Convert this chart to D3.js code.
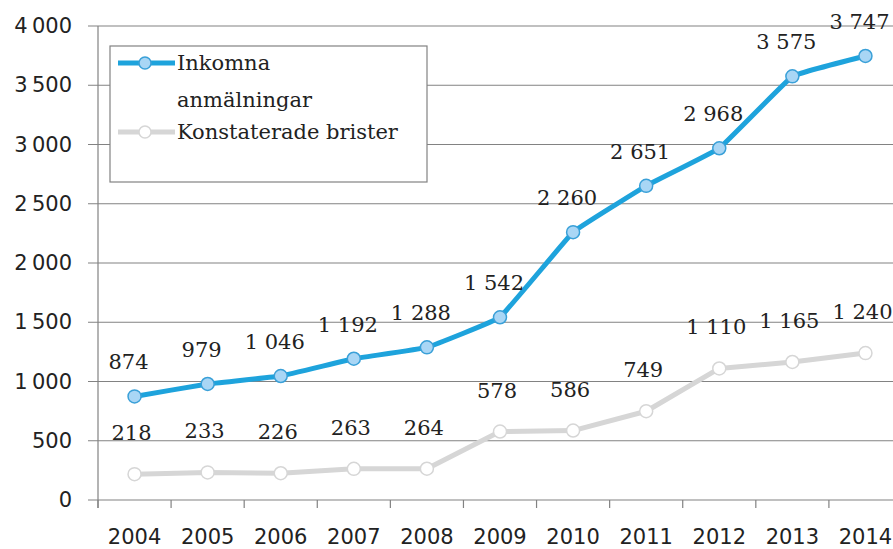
<!DOCTYPE html>
<html>
<head>
<meta charset="utf-8">
<script src="https://cdn.jsdelivr.net/npm/d3@7/dist/d3.min.js"></script>
<style>
  html, body { margin: 0; padding: 0; background: #fff; }
  #chart { width: 893px; height: 549px; }
</style>
</head>
<body>
<div id="chart"></div>
<script>
// data
const years = ["2004", "2005", "2006", "2007", "2008", "2009", "2010", "2011", "2012", "2013", "2014"];
const inkomna = [874, 979, 1046, 1192, 1288, 1542, 2260, 2651, 2968, 3575, 3747];
const brister = [218, 233, 226, 263, 264, 578, 586, 749, 1110, 1165, 1240];
const yTicks = [0, 500, 1000, 1500, 2000, 2500, 3000, 3500, 4000];
const seriesNames = ["Inkomna anmälningar", "Konstaterade brister"];

const W = 893, H = 549;
const m = { left: 98, top: 26, bottom: 500, right: 902 };

const svg = d3.select("#chart").append("svg")
    .attr("width", W)
    .attr("height", H);

const x = d3.scaleBand().domain(years).range([m.left, m.right]).padding(0);
const y = d3.scaleLinear().domain([0, 4000]).range([m.bottom, m.top]);
const cx = d => x(d) + x.bandwidth() / 2;

const sv = d3.formatLocale({ decimal: ",", thousands: "\u2009", grouping: [3], currency: ["", ""] });
const fmtAxis = sv.format(",");
const fmtLabel = d3.formatLocale({ decimal: ",", thousands: " ", grouping: [3], currency: ["", ""] }).format(",");

// gridlines
svg.append("g")
    .selectAll("line")
    .data(yTicks)
    .join("line")
    .attr("x1", m.left - 10).attr("x2", W)
    .attr("y1", d => y(d)).attr("y2", d => y(d))
    .attr("stroke", "#828282")
    .attr("stroke-width", 1.2);

// y axis
const yAxis = svg.append("g")
    .attr("transform", `translate(${m.left},0)`)
    .call(d3.axisLeft(y).tickValues(yTicks).tickSize(0).tickPadding(26).tickFormat(fmtAxis));
yAxis.select(".domain").attr("stroke", "#828282").attr("stroke-width", 1.2)
    .attr("d", `M0,${m.top}V${m.bottom + 8}`);
yAxis.selectAll("text")
    .style("font-family", "'DejaVu Sans', Verdana, sans-serif")
    .style("font-size", "21px")
    .style("fill", "#222");

// x axis: labels centred, ticks on band edges
const xAxis = svg.append("g")
    .attr("transform", `translate(0,${m.bottom})`)
    .call(d3.axisBottom(x).tickSize(0).tickPadding(29));
xAxis.select(".domain").remove();
xAxis.selectAll("text")
    .style("font-family", "'DejaVu Sans', Verdana, sans-serif")
    .style("font-size", "21px")
    .style("fill", "#222");
svg.append("g")
    .selectAll("line")
    .data(years)
    .join("line")
    .attr("x1", d => x(d)).attr("x2", d => x(d))
    .attr("y1", m.bottom).attr("y2", m.bottom + 8)
    .attr("stroke", "#828282")
    .attr("stroke-width", 1.2);

const styles = [
    { stroke: "#1ea3dc", fill: "#a9d6f5", mstroke: "#3aa0d8", dx: -6, dy: -27, curve: d3.curveCardinal.tension(0.8) },
    { stroke: "#d6d6d6", fill: "#ffffff", mstroke: "#d6d6d6", dx: -3, dy: -34, curve: d3.curveLinear }
];

[inkomna, brister].forEach((vals, k) => {
    const s = styles[k];
    const g = svg.append("g");
    const line = d3.line()
        .x((d, i) => cx(years[i]))
        .y(d => y(d))
        .curve(s.curve);
    g.append("path")
        .datum(vals)
        .attr("fill", "none")
        .attr("stroke", s.stroke)
        .attr("stroke-width", 5)
        .attr("stroke-linejoin", "round")
        .attr("d", line);
    g.selectAll("circle")
        .data(vals)
        .join("circle")
        .attr("cx", (d, i) => cx(years[i]))
        .attr("cy", d => y(d))
        .attr("r", 6.5)
        .attr("fill", s.fill)
        .attr("stroke", s.mstroke)
        .attr("stroke-width", 1.5);
    g.selectAll("text")
        .data(vals)
        .join("text")
        .attr("x", (d, i) => cx(years[i]) + s.dx)
        .attr("y", d => y(d) + s.dy)
        .attr("text-anchor", "middle")
        .style("font-family", "'DejaVu Serif', serif")
        .style("font-size", "21px")
        .style("fill", "#222")
        .text(d => fmtLabel(d));
});

// legend
const lg = svg.append("g");
lg.append("rect")
    .attr("x", 110).attr("y", 46)
    .attr("width", 317).attr("height", 136)
    .attr("fill", "#fff")
    .attr("stroke", "#828282")
    .attr("stroke-width", 1.2);

const legendRows = [
    { lines: ["Inkomna", "anmälningar"], y: 63 },
    { lines: [seriesNames[1]], y: 132 }
];
legendRows.forEach((r, k) => {
    const s = styles[k];
    lg.append("line")
        .attr("x1", 118).attr("x2", 175)
        .attr("y1", r.y).attr("y2", r.y)
        .attr("stroke", s.stroke)
        .attr("stroke-width", 5);
    lg.append("circle")
        .attr("cx", 145).attr("cy", r.y).attr("r", 6)
        .attr("fill", s.fill)
        .attr("stroke", s.mstroke)
        .attr("stroke-width", 1.5);
    r.lines.forEach((t, j) => {
        lg.append("text")
            .attr("x", 177)
            .attr("y", r.y + 7 + j * 37)
            .style("font-family", "'DejaVu Serif', serif")
            .style("font-size", "21px")
            .style("fill", "#222")
            .text(t);
    });
});
</script>
</body>
</html>
